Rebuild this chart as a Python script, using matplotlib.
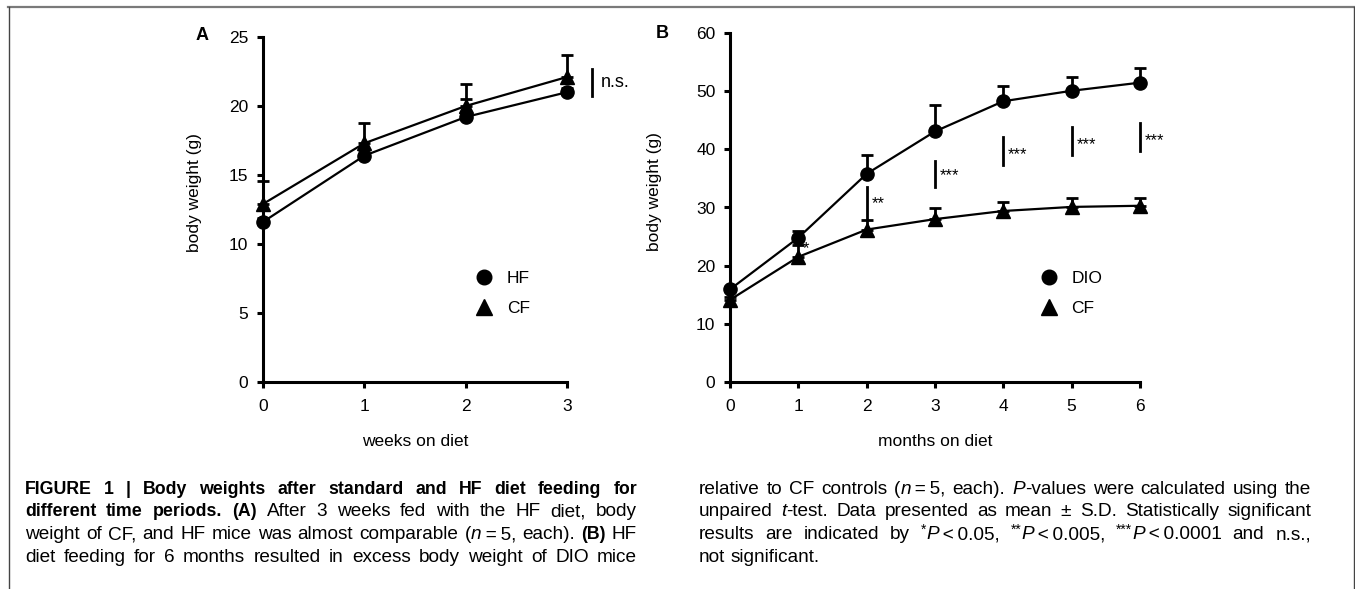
import numpy as np
import matplotlib
matplotlib.use("Agg")
import matplotlib.pyplot as plt
from matplotlib.lines import Line2D
from matplotlib.transforms import offset_copy

plt.rcParams['font.family'] = ['Liberation Sans', 'DejaVu Sans']

# ---- data ----
weeks = [0, 1, 2, 3]
hf_a = [11.6, 16.4, 19.2, 21.0]
hf_a_sd = [0.3, 0.4, 1.3, 0.3]
cf_a = [12.9, 17.3, 20.0, 22.1]
cf_a_sd = [1.7, 1.5, 1.6, 1.6]

months = [0, 1, 2, 3, 4, 5, 6]
dio_b = [15.9, 24.8, 35.8, 43.1, 48.3, 50.1, 51.5]
dio_b_sd = [0.4, 1.1, 3.2, 4.6, 2.7, 2.4, 2.6]
cf_b = [14.1, 21.5, 26.2, 28.0, 29.4, 30.1, 30.3]
cf_b_sd = [0.5, 2.0, 1.6, 1.9, 1.6, 1.5, 1.4]

ns_x = 3.25
ns_lo, ns_hi = 20.7, 22.7
ns_label = "n.s."

sig_x = [2, 3, 4, 5, 6]
sig_lo = [28.0, 33.5, 37.3, 39.0, 39.8]
sig_hi = [33.5, 38.0, 42.2, 43.9, 44.6]
star_x = [1, 2, 3, 4, 5, 6]
star_y = [23.6, 31.3, 36.2, 39.9, 41.6, 42.2]
star_txt = ["*", "**", "***", "***", "***", "***"]

caption_left = [
    "#FIGURE 1 | Body weights after standard and HF diet feeding for#",
    "#different time periods. (A)# After 3 weeks fed with the HF diet, body",
    "weight of CF, and HF mice was almost comparable (_n_\u2009=\u20095, each). #(B)# HF",
    "diet feeding for 6 months resulted in excess body weight of DIO mice",
]
caption_right = [
    "relative to CF controls (_n_\u2009=\u20095, each). _P_-values were calculated using the",
    "unpaired _t_-test. Data presented as mean \u00b1 S.D. Statistically significant",
    "results are indicated by ^*^_P_\u2009<\u20090.05, ^**^_P_\u2009<\u20090.005, ^***^_P_\u2009<\u20090.0001 and n.s.,",
    "not significant.",
]

W, H = 1355, 589
fig = plt.figure(figsize=(W / 100, H / 100), dpi=100)


def fx(px):
    return px / W


def fy(py):
    return 1 - py / H


axA = fig.add_axes([fx(263), fy(382), fx(567) - fx(263), fy(37) - fy(382)])
axB = fig.add_axes([fx(730), fy(381.7), fx(1140) - fx(730), fy(33.3) - fy(381.7)])


def style(ax, xmax, ymax, ystep):
    ax.set_xlim(0, xmax)
    ax.set_ylim(0, ymax)
    ax.set_xticks(range(xmax + 1))
    ax.set_yticks(np.arange(0, ymax + 1, ystep))
    for s in ['top', 'right']:
        ax.spines[s].set_visible(False)
    for s in ['left', 'bottom']:
        ax.spines[s].set_linewidth(2.2)
    ax.tick_params(width=2.2, length=4.5, labelsize=12.5, pad=6)
    ax.tick_params(axis='x', pad=8)


def series(ax, x, y, sd, marker, ms):
    eb = ax.errorbar(x, y, yerr=[np.zeros(len(sd)), sd], fmt='-' + marker,
                     color='black', ms=ms, lw=1.6, elinewidth=2,
                     capsize=4, capthick=2)
    for art in eb.get_children():
        art.set_clip_on(False)


def legend(ax, labels, x, y):
    handles = [Line2D([], [], marker='o', ls='none', color='k', ms=10.5),
               Line2D([], [], marker='^', ls='none', color='k', ms=11.5)]
    ax.legend(handles, labels, loc='center left', bbox_to_anchor=(x, y),
              frameon=False, fontsize=12.5, handlelength=1.0,
              handletextpad=0.8, labelspacing=0.85, borderpad=0,
              borderaxespad=0)


# panel A
style(axA, 3, 25, 5)
series(axA, weeks, cf_a, cf_a_sd, '^', 10)
series(axA, weeks, hf_a, hf_a_sd, 'o', 9.5)
axA.plot([ns_x, ns_x], [ns_lo, ns_hi], color='k', lw=2, clip_on=False)
axA.text(ns_x + 0.08, (ns_lo + ns_hi) / 2, ns_label, fontsize=13,
         va='center', clip_on=False)
axA.set_xlabel("weeks on diet", fontsize=12.5)
axA.set_ylabel("body weight (g)", fontsize=12.5)
axA.xaxis.set_label_coords(0.5, -0.15)
axA.yaxis.set_label_coords(-0.20, 0.55)
legend(axA, ["HF", "CF"], 0.70, 0.257)

# panel B
style(axB, 6, 60, 10)
series(axB, months, cf_b, cf_b_sd, '^', 10)
series(axB, months, dio_b, dio_b_sd, 'o', 9.5)
for x, lo, hi in zip(sig_x, sig_lo, sig_hi):
    axB.plot([x, x], [lo, hi], color='k', lw=2, clip_on=False)
star_tr = offset_copy(axB.transData, fig=fig, y=-3, units='points')
for x, y, t in zip(star_x, star_y, star_txt):
    axB.text(x + 0.07, y, t, fontsize=12, va='center', transform=star_tr,
             clip_on=False)
axB.set_xlabel("months on diet", fontsize=12.5)
axB.set_ylabel("body weight (g)", fontsize=12.5)
axB.xaxis.set_label_coords(0.5, -0.15)
axB.yaxis.set_label_coords(-0.166, 0.546)
legend(axB, ["DIO", "CF"], 0.757, 0.253)

fig.text(fx(202), fy(35), "A", fontsize=13, fontweight='bold',
         ha='center', va='center')
fig.text(fx(662), fy(34), "B", fontsize=13, fontweight='bold',
         ha='center', va='center')

# frame around the figure
fig.add_artist(Line2D([fx(8), 1], [fy(7.3), fy(7.3)], color='#7a7a7a', lw=1.6))
fig.add_artist(Line2D([fx(8.5), fx(8.5)], [fy(7.3), 0], color='#444444', lw=1.0))
fig.add_artist(Line2D([fx(1354), fx(1354)], [fy(7.3), 0], color='#444444', lw=1.0))

# ---- caption, justified word by word ----
CAP_FONT = ['Liberation Sans', 'DejaVu Sans']
BSCALE = 0.93  # bold runs a touch smaller, like the condensed original
fig.canvas.draw()
renderer = fig.canvas.get_renderer()


def parse(line):
    words = [[]]
    bold = ital = sup = False
    buf = ''
    for ch in line + ' ':
        if ch in '#_^ ':
            if buf:
                words[-1].append((buf, bold, ital, sup))
                buf = ''
            if ch == '#':
                bold = not bold
            elif ch == '_':
                ital = not ital
            elif ch == '^':
                sup = not sup
            elif words[-1]:
                words.append([])
        else:
            buf += ch
    return [w for w in words if w]


def make(text, b, i, s, fs):
    size = fs * (0.72 if s else 1) * (BSCALE if b else 1)
    return fig.text(0, 0, text, fontsize=size,
                    fontweight='bold' if b else 'normal',
                    fontstyle='italic' if i else 'normal',
                    family=CAP_FONT, va='baseline')


def width(t):
    return t.get_window_extent(renderer).width


def space_width(fs):
    p1, p2 = make("a a", 0, 0, 0, fs), make("aa", 0, 0, 0, fs)
    w = width(p1) - width(p2)
    p1.remove()
    p2.remove()
    return w


def natural_width(line, fs):
    ws = parse(line)
    total = 0
    for w in ws:
        for run in w:
            t = make(*run, fs)
            total += width(t)
            t.remove()
    return total + space_width(fs) * (len(ws) - 1)


COL_W = 612
justified = caption_left + caption_right[:-1]
CAP_FS = 10 * min(COL_W / natural_width(l, 10) for l in justified) * 0.99
space_w = space_width(CAP_FS)


def draw_line(line, x0, x1, y, justify=True):
    items, widths = [], []
    for w in parse(line):
        arts = [(make(*run, CAP_FS), run[3]) for run in w]
        arts = [(t, width(t), s) for t, s in arts]
        items.append(arts)
        widths.append(sum(a[1] for a in arts))
    gap = (x1 - x0 - sum(widths)) / (len(items) - 1) if justify else space_w
    x = x0
    for arts in items:
        for t, wpx, s in arts:
            t.set_position((fx(x), fy(y - (5 if s else 0))))
            x += wpx
        x += gap


baselines = [494, 516.5, 539, 561.5]
for line, y in zip(caption_left, baselines):
    draw_line(line, 25, 25 + COL_W, y)
for k, (line, y) in enumerate(zip(caption_right, baselines)):
    draw_line(line, 699, 699 + COL_W, y, justify=(k < len(caption_right) - 1))

fig.savefig("out.png", dpi=100)
